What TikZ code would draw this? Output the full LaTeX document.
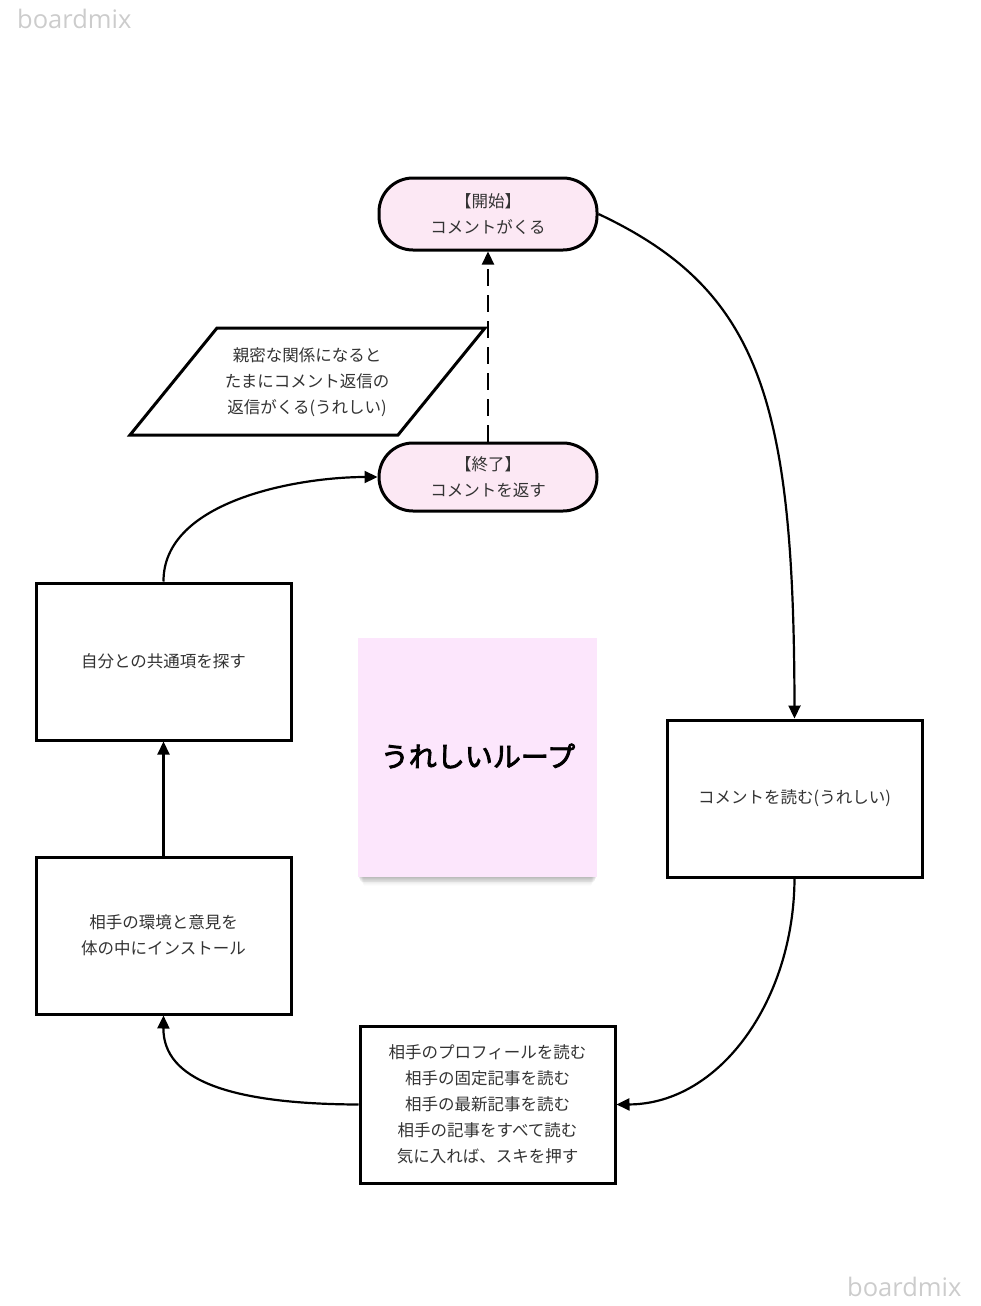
\documentclass[tikz,border=0pt]{standalone}
\usepackage{fontspec}
\setmainfont{Noto Sans CJK JP}
\newfontfamily\wmfont{Open Sans}
\newfontfamily\titlefont[FakeBold=3]{Noto Sans CJK JP}
\usetikzlibrary{arrows.meta}
\definecolor{termpink}{HTML}{FCE8F4}
\definecolor{notepink}{HTML}{FCE6FC}
\definecolor{txtgray}{HTML}{333333}
\definecolor{wmgray}{HTML}{CCCCCC}
\begin{document}
\begin{tikzpicture}[x=1pt,y=-1pt,
  every node/.style={font=\fontsize{16.5}{26}\selectfont, text=txtgray, align=center, inner sep=0pt},
  terminal/.style={draw=black, line width=3pt, fill=termpink, rounded corners=34pt, minimum width=218pt},
  procbox/.style={draw=black, line width=3pt, fill=white, minimum width=255pt, minimum height=157pt},
  conn/.style={draw=black, line width=2.2pt, -{Triangle[length=13pt,width=12pt]}},
  wm/.style={font=\wmfont\fontsize{25.5}{25.5}\selectfont, text=wmgray}
]
\useasboundingbox (0,0) rectangle (981,1306);
% watermarks
\node[wm, anchor=west] (wm1) at (17,19) {boardmix};
\node[wm, anchor=west] (wm2) at (847,1287) {boardmix};
% terminals
\node[terminal, minimum height=72pt] (start) at (488,214) {【開始】\\コメントがくる};
\node[terminal, minimum height=68pt] (end) at (488,477) {【終了】\\コメントを返す};
% parallelogram
\draw[line width=3pt, line join=miter, fill=white] (217,328) -- (485,328) -- (398,435) -- (130,435) -- cycle;
\node (para) at (307,382) {親密な関係になると\\たまにコメント返信の\\返信がくる(うれしい)};
% process boxes
\node[procbox] (own) at (163.5,661.5) {自分との共通項を探す};
\node[procbox] (install) at (163.5,935.5) {相手の環境と意見を\\体の中にインストール};
\node[procbox] (read) at (794.5,798.5) {コメントを読む(うれしい)};
\node[procbox] (prof) at (487.5,1104.5) {相手のプロフィールを読む\\相手の固定記事を読む\\相手の最新記事を読む\\相手の記事をすべて読む\\気に入れば、スキを押す};
% sticky note with shadow
\foreach \i/\o in {1/0.04,2/0.04,3/0.04,4/0.04,5/0.035,6/0.03,7/0.025,8/0.02,9/0.015,10/0.01} {
  \fill[black, opacity=\o] (358+\i*0.6,641+\i*0.9) rectangle (597-\i*0.6,877+\i*0.9);
}
\node[fill=notepink, minimum width=239pt, minimum height=239pt] (note) at (477.5,757.5) {};
\node[font=\titlefont\fontsize{28}{28}\selectfont, text=black] (title) at (478,756) {うれしいループ};
% connectors
\draw[conn] (start.east) .. controls (760,290) and (794,400) .. (read.north);
\draw[conn] (read.south) .. controls (794,1000) and (720,1104) .. (prof.east);
\draw[conn] (prof.west) .. controls (230,1104) and (163,1080) .. (install.south);
\draw[conn] (install.north) -- (own.south);
\draw[conn] (own.north) .. controls (163,500) and (300,477) .. (end.west);
\draw[conn, dash pattern=on 17pt off 9pt] (end.north) -- (start.south);
\end{tikzpicture}
\end{document}
